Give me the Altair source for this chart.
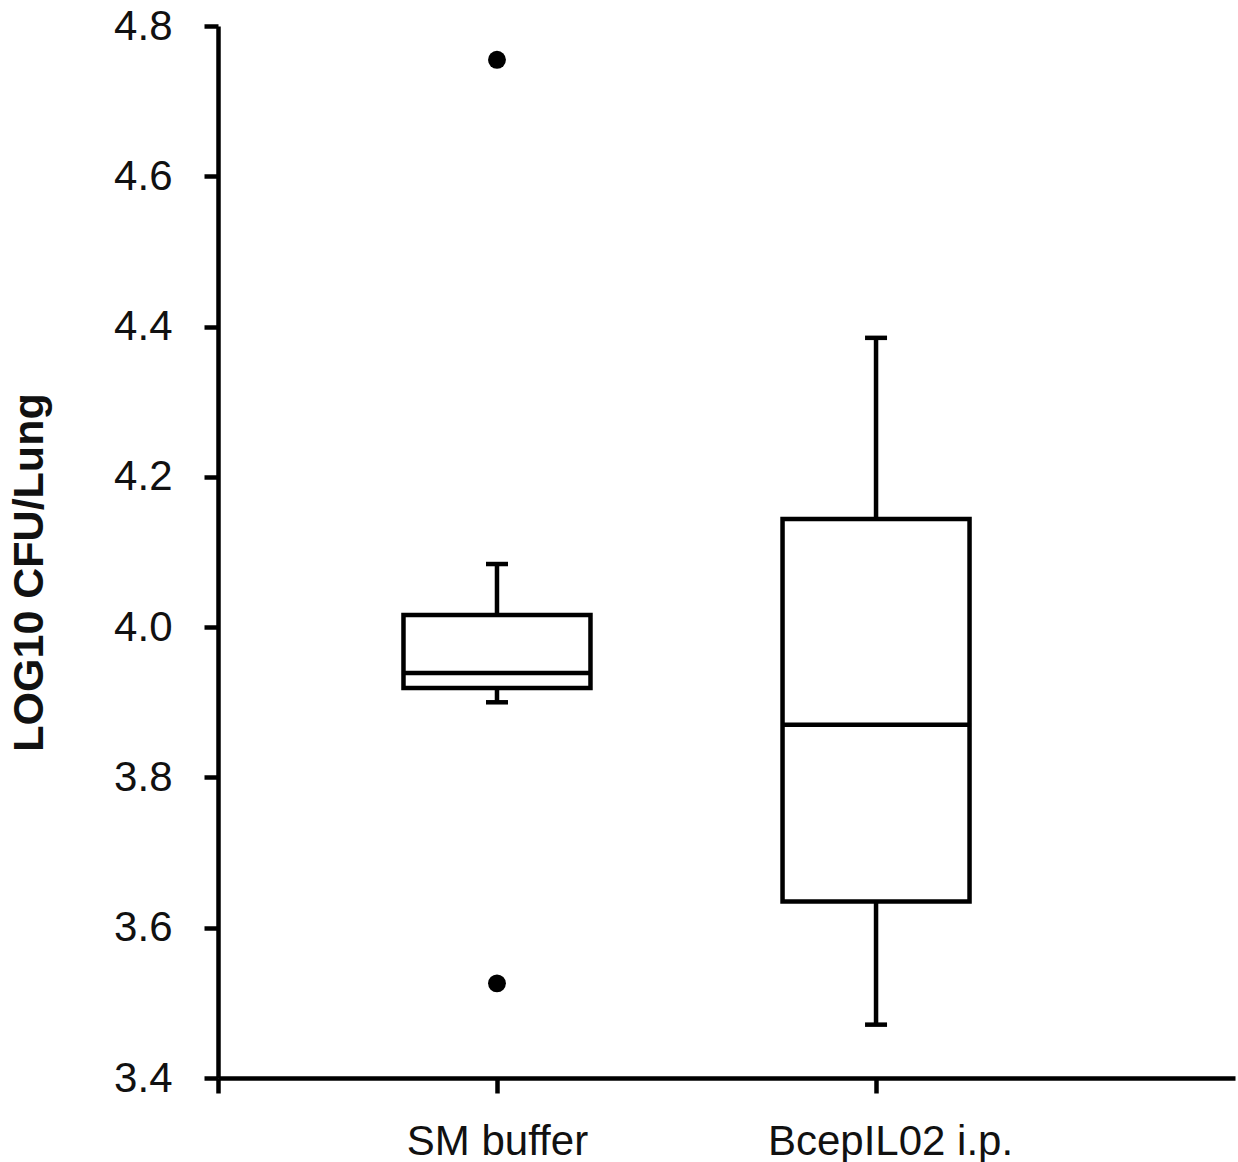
import altair as alt
import pandas as pd

# ---- data ----
groups = ["SM buffer", "BcepIL02 i.p."]
group_pos = [1, 2]
whisk_lo = [3.900, 3.471]
q1 = [3.919, 3.635]
median = [3.939, 3.870]
q3 = [4.016, 4.144]
whisk_hi = [4.084, 4.385]
outlier_group = [1, 1]
outlier_value = [4.755, 3.526]

y_ticks = [3.4, 3.6, 3.8, 4.0, 4.2, 4.4, 4.6, 4.8]

boxes = pd.DataFrame({
    "group": groups, "pos": group_pos, "lo": whisk_lo, "q1": q1,
    "med": median, "q3": q3, "hi": whisk_hi,
})
outs = pd.DataFrame({"pos": outlier_group, "val": outlier_value})

FONT = "Liberation Sans"
X_MIN, X_MAX = 0.264, 2.947
LW = 4.5

xscale = alt.Scale(domain=[X_MIN, X_MAX], nice=False, zero=False, padding=0)
yscale = alt.Scale(domain=[3.4, 4.8], nice=False, zero=False, padding=0)

xaxis = alt.Axis(
    values=[X_MIN, 1, 2],
    labelExpr="datum.value == 1 ? 'SM buffer' : (datum.value == 2 ? 'BcepIL02 i.p.' : '')",
    title=None, grid=False, domainWidth=LW, domainColor="black",
    tickWidth=LW, tickSize=15, tickColor="black",
    labelFont=FONT, labelFontSize=42, labelColor="#111", labelPadding=28,
    labelOffset={"condition": {"test": "datum.value == 2", "value": 14}, "value": 0},
    labelFlush=False, labelOverlap=False, labelLimit=0,
)
yaxis = alt.Axis(
    values=y_ticks, format=".1f",
    title="LOG10 CFU/Lung", titleFont=FONT, titleFontSize=43, titleFontWeight="bold",
    titleColor="#111", titleX=-176, titleY=546, titleAngle=270, titleBaseline="alphabetic",
    titleAlign="center",
    grid=False, domainWidth=LW, domainColor="black",
    tickWidth=LW, tickSize=14, tickColor="black",
    labelFont=FONT, labelFontSize=42, labelColor="#111", labelPadding=32,
    labelFlush=False, labelOverlap=False, labelLimit=0,
)

base = alt.Chart(boxes)

whisk_up = base.mark_rule(color="black", strokeWidth=LW).encode(
    x=alt.X("pos:Q", scale=xscale, axis=xaxis),
    y=alt.Y("q3:Q", scale=yscale, axis=yaxis),
    y2="hi:Q",
)
whisk_down = base.mark_rule(color="black", strokeWidth=LW).encode(
    x=alt.X("pos:Q", scale=xscale),
    y=alt.Y("lo:Q", scale=yscale),
    y2="q1:Q",
)
box = base.mark_bar(size=187, fill="white", stroke="black", strokeWidth=LW,
                    orient="vertical").encode(
    x=alt.X("pos:Q", scale=xscale),
    y=alt.Y("q1:Q", scale=yscale),
    y2="q3:Q",
)
med = base.mark_tick(orient="horizontal", size=190, thickness=LW, color="black",
                     opacity=1).encode(
    x=alt.X("pos:Q", scale=xscale),
    y=alt.Y("med:Q", scale=yscale),
)
cap_hi = base.mark_tick(orient="horizontal", size=22, thickness=LW, color="black",
                        opacity=1).encode(
    x=alt.X("pos:Q", scale=xscale),
    y=alt.Y("hi:Q", scale=yscale),
)
cap_lo = base.mark_tick(orient="horizontal", size=22, thickness=LW, color="black",
                        opacity=1).encode(
    x=alt.X("pos:Q", scale=xscale),
    y=alt.Y("lo:Q", scale=yscale),
)
pts = alt.Chart(outs).mark_circle(size=320, color="black", opacity=1).encode(
    x=alt.X("pos:Q", scale=xscale),
    y=alt.Y("val:Q", scale=yscale),
)

chart = alt.layer(whisk_up, whisk_down, box, med, cap_hi, cap_lo, pts).properties(
    width=1017, height=1052,
    autosize=alt.AutoSizeParams(type="none"),
    padding={"left": 218, "top": 26, "right": 3, "bottom": 84},
    background="white",
).configure_view(stroke=None)

chart.save("out.html", embed_options={"renderer": "svg", "actions": False})
